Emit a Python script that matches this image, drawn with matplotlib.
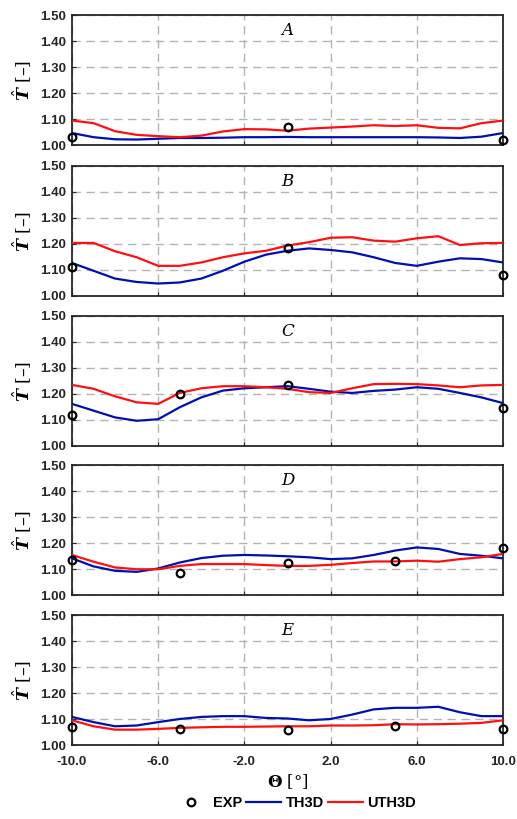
import numpy as np
import matplotlib
matplotlib.use('Agg')
import matplotlib.pyplot as plt

# rotation angle [deg]
theta = [-10, -9, -8, -7, -6, -5, -4, -3, -2, -1, 0, 1, 2, 3, 4, 5, 6, 7, 8, 9, 10]

panels = ['A', 'B', 'C', 'D', 'E']

# TH3D (blue)
th3d_A = [1.046, 1.030, 1.022, 1.021, 1.024, 1.027, 1.027, 1.028, 1.030, 1.030, 1.031, 1.030, 1.030,
          1.030, 1.030, 1.030, 1.030, 1.029, 1.027, 1.032, 1.046]
th3d_B = [1.127, 1.097, 1.067, 1.054, 1.048, 1.052, 1.067, 1.097, 1.132, 1.159, 1.174, 1.183, 1.177,
          1.168, 1.149, 1.127, 1.116, 1.132, 1.145, 1.142, 1.129]
th3d_C = [1.162, 1.136, 1.110, 1.097, 1.103, 1.149, 1.187, 1.213, 1.222, 1.226, 1.230, 1.220, 1.209,
          1.204, 1.212, 1.217, 1.226, 1.220, 1.204, 1.187, 1.165]
th3d_D = [1.141, 1.110, 1.093, 1.089, 1.102, 1.125, 1.142, 1.151, 1.154, 1.152, 1.149, 1.145, 1.138,
          1.141, 1.154, 1.171, 1.183, 1.177, 1.158, 1.151, 1.141]
th3d_E = [1.108, 1.088, 1.072, 1.075, 1.088, 1.100, 1.108, 1.111, 1.111, 1.104, 1.102, 1.095, 1.100,
          1.117, 1.137, 1.143, 1.143, 1.147, 1.126, 1.111, 1.111]

# UTH3D (red)
uth3d_A = [1.094, 1.084, 1.053, 1.039, 1.034, 1.030, 1.036, 1.052, 1.061, 1.060, 1.055, 1.063, 1.067,
           1.071, 1.076, 1.073, 1.076, 1.066, 1.064, 1.084, 1.094]
uth3d_B = [1.204, 1.204, 1.172, 1.149, 1.116, 1.116, 1.129, 1.149, 1.164, 1.174, 1.194, 1.207, 1.224,
           1.226, 1.213, 1.209, 1.222, 1.230, 1.196, 1.203, 1.204]
uth3d_C = [1.235, 1.220, 1.191, 1.168, 1.162, 1.204, 1.222, 1.230, 1.230, 1.226, 1.220, 1.207, 1.204,
           1.222, 1.238, 1.239, 1.238, 1.233, 1.226, 1.233, 1.235]
uth3d_D = [1.154, 1.128, 1.106, 1.099, 1.099, 1.112, 1.119, 1.119, 1.119, 1.115, 1.112, 1.112, 1.116,
           1.123, 1.129, 1.129, 1.132, 1.128, 1.138, 1.145, 1.158]
uth3d_E = [1.095, 1.072, 1.059, 1.059, 1.062, 1.066, 1.068, 1.070, 1.070, 1.071, 1.072, 1.072, 1.075,
           1.075, 1.076, 1.080, 1.079, 1.080, 1.082, 1.085, 1.095]

# experiments
exp_x_A = [-10, 0, 10]
exp_y_A = [1.030, 1.070, 1.020]
exp_x_B = [-10, 0, 10]
exp_y_B = [1.110, 1.185, 1.080]
exp_x_C = [-10, -5, 0, 10]
exp_y_C = [1.120, 1.200, 1.235, 1.145]
exp_x_D = [-10, -5, 0, 5, 10]
exp_y_D = [1.134, 1.084, 1.123, 1.132, 1.180]
exp_x_E = [-10, -5, 0, 5, 10]
exp_y_E = [1.070, 1.063, 1.059, 1.075, 1.063]

th3d = [th3d_A, th3d_B, th3d_C, th3d_D, th3d_E]
uth3d = [uth3d_A, uth3d_B, uth3d_C, uth3d_D, uth3d_E]
exp_x = [exp_x_A, exp_x_B, exp_x_C, exp_x_D, exp_x_E]
exp_y = [exp_y_A, exp_y_B, exp_y_C, exp_y_D, exp_y_E]

xticks = [-10, -6, -2, 2, 6, 10]
yticks = [1.0, 1.1, 1.2, 1.3, 1.4, 1.5]

plt.rcParams['font.family'] = 'Liberation Sans'
plt.rcParams['mathtext.fontset'] = 'dejavuserif'

W, H = 517, 819
fig = plt.figure(figsize=(W / 100, H / 100), dpi=100)

tops = [15, 166, 316, 465, 615]
ax_h = 130
left, right = 72, 503

for i, p in enumerate(panels):
    ax = fig.add_axes([left / W, 1 - (tops[i] + ax_h) / H, (right - left) / W, ax_h / H])
    ax.plot(theta, th3d[i], color='#0010B0', lw=1.6, label='TH3D', zorder=3)
    ax.plot(theta, uth3d[i], color='#FF1010', lw=1.6, label='UTH3D', zorder=3)
    ax.plot(exp_x[i], exp_y[i], 'o', mfc='none', mec='black', mew=1.6, ms=5.5,
            label='EXP', zorder=4, clip_on=False)
    ax.set_xlim(-10, 10)
    ax.set_ylim(1.0, 1.5)
    ax.set_xticks(xticks)
    ax.set_yticks(yticks)
    ax.set_yticklabels(['%.2f' % v for v in yticks], fontsize=9.5, fontweight='bold', color='#262626')
    if i == 4:
        ax.set_xticklabels(['%.1f' % v for v in xticks], fontsize=9.5, fontweight='bold', color='#262626')
        ax.set_xlabel(r'$\mathbf{\Theta}$ [°]', fontsize=12, family='DejaVu Serif', labelpad=3)
    else:
        ax.set_xticklabels([])
    ax.tick_params(direction='in', length=3, width=0.8, color='#262626')
    ax.tick_params(axis='y', pad=4)
    ax.tick_params(axis='x', pad=8)
    ax.grid(True, color='#b4b4b4', linestyle=(0, (6, 4)), lw=1.0)
    for s in ax.spines.values():
        s.set_color('#262626')
        s.set_linewidth(1.3)
    ax.text(0.5, 0.88, p, transform=ax.transAxes, ha='center', va='center',
            fontsize=12, family='DejaVu Serif', style='italic')
    ax.set_ylabel(r'$\hat{\mathbfit{T}}$ [–]', fontsize=12.5, family='DejaVu Serif', labelpad=5)

handles, labels = ax.get_legend_handles_labels()
order = [2, 0, 1]
fig.legend([handles[k] for k in order], [labels[k] for k in order], loc='center',
           bbox_to_anchor=(0.57, 1 - 803 / H), ncol=3, frameon=False,
           prop={'weight': 'bold', 'size': 10.5}, handlelength=2.4, handletextpad=0.3,
           columnspacing=0.3, numpoints=1)

fig.savefig('out.png', dpi=100)
